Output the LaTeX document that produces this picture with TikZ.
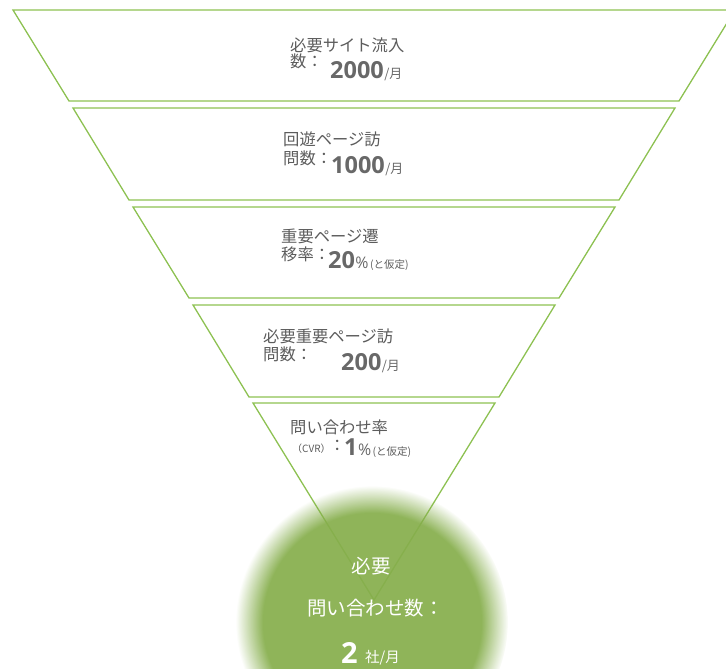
\documentclass[tikz,border=0pt]{standalone}
\usepackage{fontspec}
\setmainfont{Noto Sans CJK JP}
\newfontfamily\numfont{Open Sans}
\usetikzlibrary{fadings}
\definecolor{linegreen}{RGB}{141,193,82}
\definecolor{blobgreen}{RGB}{134,174,76}
\definecolor{txtgray}{RGB}{92,92,92}
\definecolor{numgray}{RGB}{104,104,104}
\tikzset{
  funnel/.style={draw=linegreen, line width=1.3pt, line join=miter},
  lbl/.style={anchor=base west, inner sep=0pt, text=txtgray, font=\fontsize{16.3}{16}\selectfont},
  big/.style={anchor=base west, inner sep=0pt, text=numgray, font=\numfont\bfseries\fontsize{23.5}{23}\selectfont},
  unit/.style={anchor=base west, inner sep=0pt, text=numgray, font=\fontsize{13}{13}\selectfont},
  small/.style={anchor=base west, inner sep=0pt, text=txtgray, font=\fontsize{10.5}{10}\selectfont},
  wlbl/.style={inner sep=0pt, text=white, font=\fontsize{19.5}{19}\selectfont},
}
\begin{document}
\begin{tikzpicture}[x=1pt,y=-1pt]
\useasboundingbox (0,0) rectangle (726,669);
\clip (0,0) rectangle (726,669);
% funnel
\draw[funnel] (13,10) -- (735,10) -- (679,101) -- (69,101) -- cycle;
\draw[funnel] (73,108) -- (675,108) -- (619,200) -- (129,200) -- cycle;
\draw[funnel] (133,207) -- (615,207) -- (559,298) -- (189,298) -- cycle;
\draw[funnel] (193,305) -- (555,305) -- (499,397) -- (249,397) -- cycle;
\draw[funnel] (253,403) -- (495,403) -- (374,600) -- cycle;
% blob
\fill[blobgreen, fill opacity=0.93, path fading=circle with fuzzy edge 20 percent] (372,622) circle (136);
% stage 1
\node[lbl] (t1a) at (290,52) {必要サイト流入};
\node[lbl] (t1b) at (290,68) {数：};
\node[big] (t1n) at (330,78) {2000};
\node[unit] (t1u) at (t1n.base east) {/月};
% stage 2
\node[lbl] (t2a) at (283,146) {回遊ページ訪};
\node[lbl] (t2b) at (283,164) {問数：};
\node[big] (t2n) at (331,173) {1000};
\node[unit] (t2u) at (t2n.base east) {/月};
% stage 3
\node[lbl] (t3a) at (281,242) {重要ページ遷};
\node[lbl] (t3b) at (281,260) {移率：};
\node[big] (t3n) at (328,268) {20};
\node[anchor=base west, inner sep=0pt, text=numgray, font=\numfont\fontsize{16}{16}\selectfont] (t3p) at (t3n.base east) {\%};
\node[small] (t3s) at ([xshift=1pt]t3p.base east) {(と仮定)};
% stage 4
\node[lbl] (t4a) at (263,342) {必要重要ページ訪};
\node[lbl] (t4b) at (263,360) {問数：};
\node[big] (t4n) at (341,370) {200};
\node[unit] (t4u) at (t4n.base east) {/月};
% stage 5
\node[lbl] (t5a) at (290,433) {問い合わせ率};
\node[anchor=base west, inner sep=0pt, text=txtgray, font=\fontsize{10}{10}\selectfont] (t5b) at (292,452) {（CVR）};
\node[lbl] (t5c) at (329,451) {：};
\node[big] (t5n) at (344,455) {1};
\node[anchor=base west, inner sep=0pt, text=numgray, font=\numfont\fontsize{16}{16}\selectfont] (t5p) at (t5n.base east) {\%};
\node[small] (t5s) at ([xshift=1pt]t5p.base east) {(と仮定)};
% result
\node[wlbl, anchor=base] (r1) at (371,573) {必要};
\node[wlbl, anchor=base west] (r2) at (307,615) {問い合わせ数：};
\node[anchor=base west, inner sep=0pt, text=white, font=\numfont\bfseries\fontsize{29}{29}\selectfont] (r3) at (341,663) {2};
\node[anchor=base west, inner sep=0pt, text=white, font=\fontsize{14.5}{14}\selectfont] (r4) at (365,662) {社/月};
\end{tikzpicture}
\end{document}
